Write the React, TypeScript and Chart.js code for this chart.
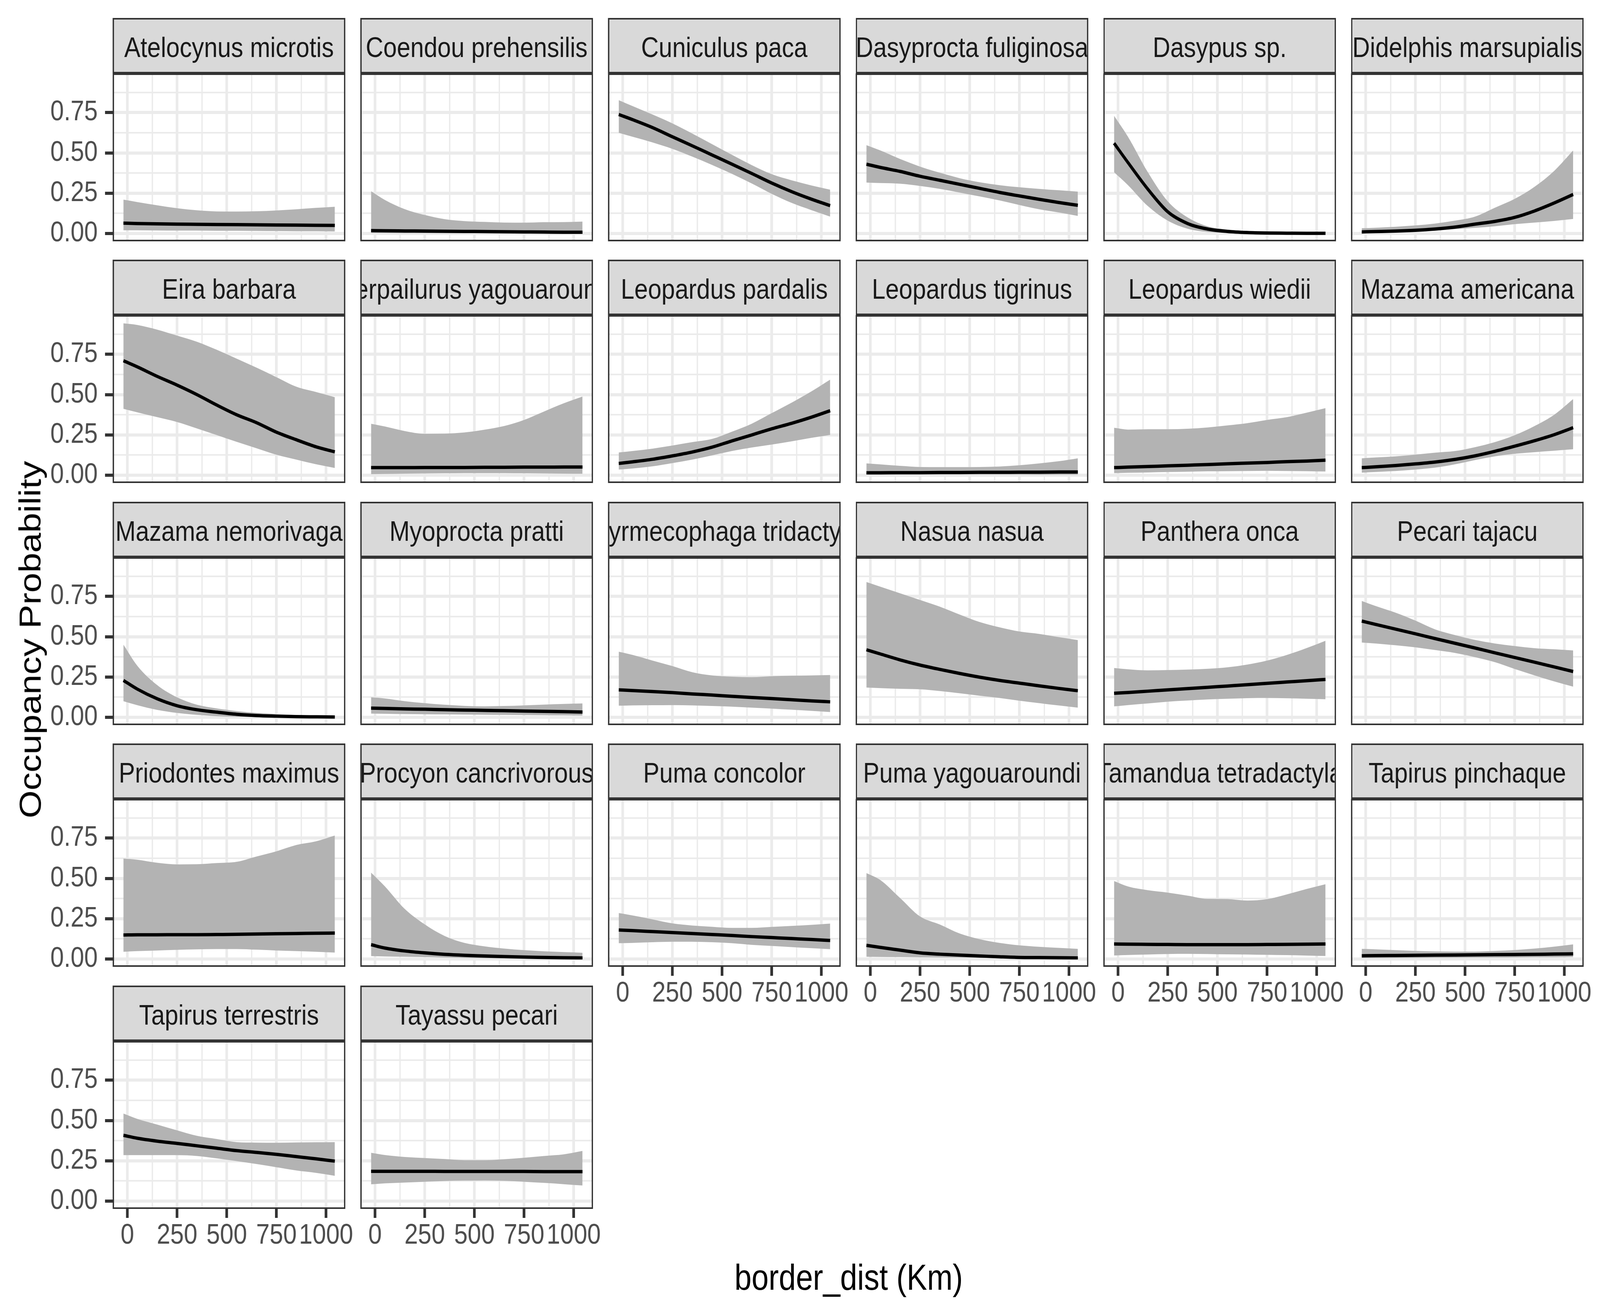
import React, { useEffect, useRef, useState } from 'react';
import { Chart, registerables } from 'chart.js';

Chart.register(...registerables);

// ---------------- data ----------------
const X_KM = [-20, 50, 150, 250, 350, 450, 550, 650, 750, 850, 950, 1044];
const X_MAJOR = [0, 250, 500, 750, 1000];
const X_MINOR = [125, 375, 625, 875];
const Y_MAJOR = [0, 0.25, 0.5, 0.75];
const Y_MINOR = [0.125, 0.375, 0.625, 0.875];
const X_LIMITS = [-74, 1097];
const Y_LIMITS = [-0.0484, 0.993];
const X_TITLE = 'border_dist (Km)';
const Y_TITLE = 'Occupancy Probability';

const atelocynusMean = [0.064, 0.062, 0.06, 0.058, 0.057, 0.056, 0.055, 0.054, 0.053, 0.052, 0.051, 0.05];
const atelocynusLow = [0.02, 0.02, 0.019, 0.018, 0.018, 0.017, 0.017, 0.016, 0.015, 0.014, 0.014, 0.013];
const atelocynusHigh = [0.21, 0.195, 0.175, 0.157, 0.144, 0.137, 0.136, 0.138, 0.143, 0.15, 0.159, 0.166];

const coendouMean = [0.018, 0.017, 0.016, 0.015, 0.014, 0.013, 0.012, 0.011, 0.01, 0.009, 0.008, 0.008];
const coendouLow = [0.003, 0.003, 0.002, 0.002, 0.002, 0.002, 0.002, 0.001, 0.001, 0.001, 0.001, 0.001];
const coendouHigh = [0.262, 0.208, 0.151, 0.115, 0.089, 0.077, 0.072, 0.068, 0.067, 0.07, 0.071, 0.074];

const cuniculusMean = [0.738, 0.706, 0.657, 0.6, 0.544, 0.487, 0.43, 0.372, 0.313, 0.26, 0.213, 0.173];
const cuniculusLow = [0.625, 0.6, 0.565, 0.525, 0.477, 0.425, 0.37, 0.31, 0.246, 0.19, 0.145, 0.105];
const cuniculusHigh = [0.827, 0.79, 0.738, 0.683, 0.62, 0.554, 0.488, 0.424, 0.368, 0.33, 0.298, 0.272];

const dasyproctaMean = [0.43, 0.41, 0.385, 0.355, 0.33, 0.305, 0.28, 0.255, 0.233, 0.212, 0.192, 0.175];
const dasyproctaLow = [0.316, 0.313, 0.309, 0.295, 0.277, 0.254, 0.23, 0.205, 0.177, 0.15, 0.13, 0.109];
const dasyproctaHigh = [0.548, 0.515, 0.462, 0.415, 0.377, 0.343, 0.318, 0.3, 0.287, 0.277, 0.268, 0.26];

const dasypusMean = [0.56, 0.44, 0.275, 0.135, 0.062, 0.028, 0.013, 0.006, 0.003, 0.002, 0.001, 0.001];
const dasypusLow = [0.38, 0.3, 0.17, 0.08, 0.03, 0.01, 0.004, 0.002, 0.001, 0.001, 0.0005, 0.0003];
const dasypusHigh = [0.73, 0.6, 0.38, 0.2, 0.1, 0.045, 0.025, 0.015, 0.01, 0.008, 0.007, 0.006];

const didelphisMean = [0.01, 0.012, 0.015, 0.02, 0.028, 0.04, 0.058, 0.075, 0.1, 0.14, 0.19, 0.242];
const didelphisLow = [0.006, 0.008, 0.011, 0.015, 0.02, 0.027, 0.035, 0.045, 0.058, 0.068, 0.078, 0.09];
const didelphisHigh = [0.033, 0.036, 0.042, 0.05, 0.062, 0.08, 0.105, 0.16, 0.215, 0.29, 0.39, 0.515];

const eiraMean = [0.71, 0.672, 0.613, 0.559, 0.5, 0.435, 0.375, 0.326, 0.267, 0.22, 0.176, 0.145];
const eiraLow = [0.412, 0.39, 0.36, 0.33, 0.29, 0.249, 0.207, 0.167, 0.127, 0.097, 0.068, 0.045];
const eiraHigh = [0.942, 0.932, 0.903, 0.866, 0.828, 0.778, 0.723, 0.667, 0.608, 0.549, 0.516, 0.484];

const herpailurusMean = [0.047, 0.047, 0.047, 0.048, 0.048, 0.048, 0.049, 0.049, 0.05, 0.05, 0.051, 0.051];
const herpailurusLow = [0.007, 0.008, 0.01, 0.011, 0.012, 0.013, 0.013, 0.013, 0.012, 0.011, 0.01, 0.009];
const herpailurusHigh = [0.319, 0.302, 0.274, 0.257, 0.258, 0.265, 0.282, 0.305, 0.343, 0.395, 0.446, 0.488];

const pardalisMean = [0.073, 0.083, 0.099, 0.12, 0.144, 0.174, 0.213, 0.25, 0.288, 0.322, 0.36, 0.4];
const pardalisLow = [0.035, 0.042, 0.055, 0.075, 0.097, 0.123, 0.15, 0.172, 0.19, 0.21, 0.232, 0.25];
const pardalisHigh = [0.141, 0.15, 0.165, 0.184, 0.205, 0.225, 0.27, 0.32, 0.385, 0.45, 0.52, 0.593];

const tigrinusMean = [0.015, 0.015, 0.016, 0.016, 0.017, 0.017, 0.018, 0.018, 0.019, 0.019, 0.02, 0.02];
const tigrinusLow = [0.003, 0.003, 0.004, 0.004, 0.004, 0.004, 0.004, 0.004, 0.004, 0.003, 0.003, 0.003];
const tigrinusHigh = [0.073, 0.067, 0.058, 0.051, 0.05, 0.05, 0.051, 0.054, 0.062, 0.073, 0.087, 0.105];

const wiediiMean = [0.047, 0.05, 0.054, 0.058, 0.062, 0.066, 0.071, 0.075, 0.079, 0.084, 0.088, 0.093];
const wiediiLow = [0.013, 0.015, 0.017, 0.02, 0.022, 0.024, 0.025, 0.026, 0.027, 0.026, 0.025, 0.023];
const wiediiHigh = [0.294, 0.283, 0.285, 0.285, 0.288, 0.296, 0.309, 0.323, 0.343, 0.36, 0.388, 0.416];

const americanaMean = [0.047, 0.052, 0.06, 0.07, 0.082, 0.098, 0.12, 0.148, 0.18, 0.214, 0.252, 0.295];
const americanaLow = [0.016, 0.02, 0.026, 0.035, 0.047, 0.068, 0.094, 0.117, 0.133, 0.143, 0.152, 0.161];
const americanaHigh = [0.105, 0.11, 0.117, 0.128, 0.14, 0.15, 0.174, 0.205, 0.248, 0.305, 0.376, 0.472];

const nemorivagaMean = [0.229, 0.175, 0.115, 0.072, 0.047, 0.032, 0.019, 0.011, 0.007, 0.004, 0.003, 0.002];
const nemorivagaLow = [0.1, 0.075, 0.046, 0.027, 0.015, 0.007, 0.003, 0.002, 0.001, 0.001, 0.001, 0.0005];
const nemorivagaHigh = [0.451, 0.32, 0.2, 0.124, 0.078, 0.055, 0.039, 0.027, 0.02, 0.014, 0.01, 0.006];

const myoproctaMean = [0.057, 0.055, 0.052, 0.05, 0.047, 0.045, 0.043, 0.041, 0.039, 0.037, 0.035, 0.033];
const myoproctaLow = [0.023, 0.022, 0.02, 0.019, 0.018, 0.017, 0.016, 0.015, 0.014, 0.013, 0.012, 0.011];
const myoproctaHigh = [0.124, 0.117, 0.1, 0.088, 0.078, 0.071, 0.068, 0.07, 0.074, 0.079, 0.083, 0.086];

const myrmecophagaMean = [0.17, 0.166, 0.16, 0.153, 0.145, 0.138, 0.13, 0.123, 0.116, 0.109, 0.102, 0.096];
const myrmecophagaLow = [0.072, 0.074, 0.075, 0.076, 0.074, 0.07, 0.066, 0.06, 0.054, 0.047, 0.04, 0.033];
const myrmecophagaHigh = [0.407, 0.387, 0.352, 0.318, 0.28, 0.26, 0.252, 0.249, 0.255, 0.258, 0.26, 0.262];

const nasuaMean = [0.419, 0.393, 0.356, 0.324, 0.297, 0.272, 0.249, 0.229, 0.212, 0.195, 0.179, 0.165];
const nasuaLow = [0.185, 0.181, 0.177, 0.174, 0.163, 0.149, 0.134, 0.12, 0.103, 0.088, 0.073, 0.06];
const nasuaHigh = [0.839, 0.81, 0.769, 0.728, 0.686, 0.637, 0.591, 0.558, 0.532, 0.517, 0.497, 0.479];

const pantheraMean = [0.149, 0.154, 0.162, 0.17, 0.178, 0.186, 0.194, 0.202, 0.211, 0.219, 0.227, 0.235];
const pantheraLow = [0.068, 0.076, 0.086, 0.097, 0.104, 0.111, 0.115, 0.119, 0.12, 0.118, 0.115, 0.112];
const pantheraHigh = [0.306, 0.298, 0.291, 0.293, 0.296, 0.301, 0.31, 0.327, 0.352, 0.387, 0.43, 0.475];

const pecariMean = [0.597, 0.576, 0.547, 0.518, 0.488, 0.459, 0.43, 0.4, 0.371, 0.342, 0.312, 0.284];
const pecariLow = [0.464, 0.458, 0.447, 0.434, 0.417, 0.399, 0.373, 0.342, 0.3, 0.26, 0.222, 0.19];
const pecariHigh = [0.722, 0.69, 0.649, 0.6, 0.545, 0.51, 0.48, 0.458, 0.442, 0.429, 0.422, 0.415];

const priodontesMean = [0.149, 0.15, 0.15, 0.151, 0.151, 0.152, 0.153, 0.155, 0.157, 0.158, 0.16, 0.161];
const priodontesLow = [0.045, 0.049, 0.053, 0.057, 0.06, 0.062, 0.062, 0.058, 0.053, 0.049, 0.045, 0.04];
const priodontesHigh = [0.623, 0.616, 0.597, 0.587, 0.588, 0.595, 0.603, 0.636, 0.668, 0.707, 0.73, 0.766];

const procyonMean = [0.089, 0.068, 0.05, 0.038, 0.029, 0.023, 0.019, 0.015, 0.012, 0.01, 0.008, 0.007];
const procyonLow = [0.018, 0.016, 0.014, 0.012, 0.009, 0.007, 0.005, 0.004, 0.003, 0.002, 0.002, 0.001];
const procyonHigh = [0.536, 0.45, 0.31, 0.215, 0.143, 0.1, 0.079, 0.065, 0.055, 0.048, 0.043, 0.039];

const concolorMean = [0.18, 0.176, 0.17, 0.164, 0.158, 0.152, 0.146, 0.139, 0.133, 0.127, 0.121, 0.115];
const concolorLow = [0.098, 0.1, 0.104, 0.107, 0.107, 0.104, 0.098, 0.088, 0.081, 0.074, 0.067, 0.061];
const concolorHigh = [0.285, 0.27, 0.246, 0.221, 0.208, 0.2, 0.193, 0.193, 0.199, 0.205, 0.212, 0.22];

const yagouaroundiMean = [0.085, 0.072, 0.055, 0.038, 0.03, 0.024, 0.019, 0.014, 0.01, 0.009, 0.008, 0.007];
const yagouaroundiLow = [0.014, 0.013, 0.012, 0.011, 0.01, 0.009, 0.008, 0.006, 0.005, 0.004, 0.003, 0.002];
const yagouaroundiHigh = [0.533, 0.49, 0.378, 0.264, 0.214, 0.158, 0.123, 0.1, 0.085, 0.076, 0.069, 0.063];

const tamanduaMean = [0.093, 0.092, 0.091, 0.09, 0.089, 0.089, 0.089, 0.089, 0.09, 0.091, 0.092, 0.093];
const tamanduaLow = [0.022, 0.025, 0.028, 0.031, 0.032, 0.031, 0.029, 0.028, 0.026, 0.024, 0.021, 0.019];
const tamanduaHigh = [0.484, 0.45, 0.427, 0.412, 0.393, 0.373, 0.372, 0.363, 0.371, 0.401, 0.435, 0.464];

const pinchaqueMean = [0.02, 0.021, 0.022, 0.023, 0.024, 0.025, 0.026, 0.027, 0.028, 0.029, 0.031, 0.032];
const pinchaqueLow = [0.006, 0.006, 0.007, 0.007, 0.008, 0.008, 0.009, 0.009, 0.01, 0.011, 0.011, 0.012];
const pinchaqueHigh = [0.063, 0.06, 0.055, 0.05, 0.047, 0.046, 0.046, 0.05, 0.056, 0.065, 0.077, 0.091];

const terrestrisMean = [0.408, 0.39, 0.372, 0.358, 0.343, 0.328, 0.313, 0.302, 0.29, 0.276, 0.262, 0.248];
const terrestrisLow = [0.285, 0.285, 0.285, 0.285, 0.28, 0.265, 0.248, 0.23, 0.21, 0.19, 0.175, 0.157];
const terrestrisHigh = [0.543, 0.51, 0.475, 0.439, 0.405, 0.385, 0.366, 0.363, 0.362, 0.364, 0.365, 0.366];

const tayassuMean = [0.185, 0.185, 0.185, 0.185, 0.184, 0.184, 0.184, 0.184, 0.184, 0.183, 0.183, 0.183];
const tayassuLow = [0.104, 0.11, 0.115, 0.12, 0.125, 0.127, 0.128, 0.126, 0.12, 0.113, 0.105, 0.097];
const tayassuHigh = [0.3, 0.286, 0.274, 0.267, 0.261, 0.254, 0.254, 0.26, 0.269, 0.28, 0.29, 0.311];

const PANELS = [
  { name: 'Atelocynus microtis', mean: atelocynusMean, low: atelocynusLow, high: atelocynusHigh },
  { name: 'Coendou prehensilis', mean: coendouMean, low: coendouLow, high: coendouHigh },
  { name: 'Cuniculus paca', mean: cuniculusMean, low: cuniculusLow, high: cuniculusHigh },
  { name: 'Dasyprocta fuliginosa', mean: dasyproctaMean, low: dasyproctaLow, high: dasyproctaHigh },
  { name: 'Dasypus sp.', mean: dasypusMean, low: dasypusLow, high: dasypusHigh },
  { name: 'Didelphis marsupialis', mean: didelphisMean, low: didelphisLow, high: didelphisHigh },
  { name: 'Eira barbara', mean: eiraMean, low: eiraLow, high: eiraHigh },
  { name: 'Herpailurus yagouaroundi', mean: herpailurusMean, low: herpailurusLow, high: herpailurusHigh },
  { name: 'Leopardus pardalis', mean: pardalisMean, low: pardalisLow, high: pardalisHigh },
  { name: 'Leopardus tigrinus', mean: tigrinusMean, low: tigrinusLow, high: tigrinusHigh },
  { name: 'Leopardus wiedii', mean: wiediiMean, low: wiediiLow, high: wiediiHigh },
  { name: 'Mazama americana', mean: americanaMean, low: americanaLow, high: americanaHigh },
  { name: 'Mazama nemorivaga', mean: nemorivagaMean, low: nemorivagaLow, high: nemorivagaHigh },
  { name: 'Myoprocta pratti', mean: myoproctaMean, low: myoproctaLow, high: myoproctaHigh },
  { name: 'Myrmecophaga tridactyla', mean: myrmecophagaMean, low: myrmecophagaLow, high: myrmecophagaHigh },
  { name: 'Nasua nasua', mean: nasuaMean, low: nasuaLow, high: nasuaHigh },
  { name: 'Panthera onca', mean: pantheraMean, low: pantheraLow, high: pantheraHigh },
  { name: 'Pecari tajacu', mean: pecariMean, low: pecariLow, high: pecariHigh },
  { name: 'Priodontes maximus', mean: priodontesMean, low: priodontesLow, high: priodontesHigh },
  { name: 'Procyon cancrivorous', mean: procyonMean, low: procyonLow, high: procyonHigh },
  { name: 'Puma concolor', mean: concolorMean, low: concolorLow, high: concolorHigh },
  { name: 'Puma yagouaroundi', mean: yagouaroundiMean, low: yagouaroundiLow, high: yagouaroundiHigh },
  { name: 'Tamandua tetradactyla', mean: tamanduaMean, low: tamanduaLow, high: tamanduaHigh },
  { name: 'Tapirus pinchaque', mean: pinchaqueMean, low: pinchaqueLow, high: pinchaqueHigh },
  { name: 'Tapirus terrestris', mean: terrestrisMean, low: terrestrisLow, high: terrestrisHigh },
  { name: 'Tayassu pecari', mean: tayassuMean, low: tayassuLow, high: tayassuHigh },
];

// ---------------- layout / style ----------------
const DESIGN_W = 4800;
const DESIGN_H = 3360;
const FONT = "'Liberation Sans', Arial, sans-serif";
const NCOL = 6;
const PANEL_LEFT0 = 338;
const COL_PITCH = 743;
const PANEL_W = 698;
const STRIP_TOP0 = 46;
const ROW_PITCH = 619.4;
const STRIP_H = 142;
const PANEL_H = 430;
const PAD_T = 80;
const PAD_B = 80;
const PAD_R = 110;
const Y_AXIS_W = 330;
const X_AXIS_H = 130;

const panelBorder = {
  id: 'panelBorder',
  afterDatasetsDraw(chart: any) {
    const { ctx, chartArea: a } = chart;
    ctx.save();
    ctx.strokeStyle = '#333333';
    ctx.lineWidth = 4;
    ctx.strokeRect(a.left + 2, a.top + 2, a.right - a.left - 4, a.bottom - a.top - 4);
    ctx.restore();
  },
};

function buildConfig(p: any, showY: boolean, showX: boolean): any {
  const pts = (arr: number[]) => arr.map((y, i) => ({ x: X_KM[i], y }));
  const xGrid = [...X_MAJOR, ...X_MINOR].sort((a, b) => a - b);
  const yGrid = [...Y_MAJOR, ...Y_MINOR].sort((a, b) => a - b);
  const tickFont = { family: FONT, size: 73 };
  return {
    type: 'line',
    data: {
      datasets: [
        {
          data: pts(p.mean),
          borderColor: '#000000',
          borderWidth: 8.5,
          pointRadius: 0,
          fill: false,
          cubicInterpolationMode: 'monotone',
        },
        {
          data: pts(p.high),
          borderColor: 'rgba(0,0,0,0)',
          borderWidth: 0,
          pointRadius: 0,
          backgroundColor: '#B3B3B3',
          fill: '+1',
          cubicInterpolationMode: 'monotone',
        },
        {
          data: pts(p.low),
          borderColor: 'rgba(0,0,0,0)',
          borderWidth: 0,
          pointRadius: 0,
          fill: false,
          cubicInterpolationMode: 'monotone',
        },
      ],
    },
    options: {
      animation: false,
      responsive: false,
      maintainAspectRatio: false,
      devicePixelRatio: 1,
      events: [],
      layout: { padding: { top: PAD_T, right: PAD_R, bottom: PAD_B, left: 0 } },
      plugins: { legend: { display: false }, tooltip: { enabled: false }, title: { display: false } },
      scales: {
        x: {
          type: 'linear',
          position: 'bottom',
          min: X_LIMITS[0],
          max: X_LIMITS[1],
          afterBuildTicks: (s: any) => {
            s.ticks = xGrid.map((v) => ({ value: v }));
          },
          afterFit: (s: any) => {
            s.height = showX ? X_AXIS_H : 0;
          },
          ticks: {
            display: showX,
            autoSkip: false,
            maxRotation: 0,
            minRotation: 0,
            padding: 2,
            color: '#4D4D4D',
            font: tickFont,
            callback: (v: number) => (X_MAJOR.includes(v) ? String(v) : ''),
          },
          grid: {
            color: '#EBEBEB',
            lineWidth: (c: any) => (c.tick && X_MAJOR.includes(c.tick.value) ? 8 : 4),
            drawTicks: showX,
            tickLength: 23,
            tickWidth: 8,
            tickColor: (c: any) => (c.tick && X_MAJOR.includes(c.tick.value) ? '#333333' : 'rgba(0,0,0,0)'),
          },
          border: { display: false },
        },
        y: {
          type: 'linear',
          position: 'left',
          min: Y_LIMITS[0],
          max: Y_LIMITS[1],
          afterBuildTicks: (s: any) => {
            s.ticks = yGrid.map((v) => ({ value: v }));
          },
          afterFit: (s: any) => {
            s.width = showY ? Y_AXIS_W : 0;
          },
          ticks: {
            display: showY,
            autoSkip: false,
            padding: 22,
            color: '#4D4D4D',
            font: tickFont,
            callback: (v: number) => (Y_MAJOR.includes(v) ? v.toFixed(2) : ''),
          },
          grid: {
            color: '#EBEBEB',
            lineWidth: (c: any) => (c.tick && Y_MAJOR.includes(c.tick.value) ? 8 : 4),
            drawTicks: showY,
            tickLength: 23,
            tickWidth: 8,
            tickColor: (c: any) => (c.tick && Y_MAJOR.includes(c.tick.value) ? '#333333' : 'rgba(0,0,0,0)'),
          },
          border: { display: false },
        },
      },
    },
    plugins: [panelBorder],
  };
}

function Panel({ index }: { index: number }) {
  const ref = useRef<HTMLCanvasElement>(null);
  const p = PANELS[index];
  const r = Math.floor(index / NCOL);
  const c = index % NCOL;
  const showY = c === 0;
  const showX = index + NCOL >= PANELS.length;
  const panelLeft = PANEL_LEFT0 + c * COL_PITCH;
  const stripTop = Math.round(STRIP_TOP0 + r * ROW_PITCH);
  const panelTop = stripTop + STRIP_H;
  const padL = showY ? Y_AXIS_W : 0;
  const w = padL + PANEL_W + PAD_R;
  const h = PAD_T + PANEL_H + (showX ? X_AXIS_H : 0) + PAD_B;

  useEffect(() => {
    if (!ref.current) return;
    const chart = new Chart(ref.current, buildConfig(p, showY, showX));
    return () => chart.destroy();
  }, []);

  return (
    <>
      <canvas
        ref={ref}
        width={w}
        height={h}
        style={{ position: 'absolute', left: panelLeft - padL, top: panelTop - PAD_T, width: w, height: h }}
      />
      <div
        style={{
          position: 'absolute',
          left: panelLeft,
          top: stripTop,
          width: PANEL_W,
          height: STRIP_H,
          boxSizing: 'border-box',
          border: '4px solid #333333',
          background: '#D9D9D9',
          display: 'flex',
          alignItems: 'center',
          justifyContent: 'center',
          overflow: 'hidden',
          whiteSpace: 'nowrap',
          fontFamily: FONT,
          fontSize: 73,
          lineHeight: 'normal',
          color: '#1A1A1A',
          paddingTop: 6,
        }}
      >
        <span>{p.name}</span>
      </div>
    </>
  );
}

// The browser viewport may be smaller than the design size: stretch the
// design to fill exactly the visible viewport.
function viewportScale() {
  const w = window.innerWidth || DESIGN_W;
  const h = window.innerHeight || DESIGN_H;
  return { sx: w / DESIGN_W, sy: h / DESIGN_H };
}

export default function App() {
  const [{ sx, sy }] = useState(viewportScale);
  return (
    <div
      style={{
        position: 'absolute',
        left: 0,
        top: 0,
        width: DESIGN_W * sx,
        height: DESIGN_H * sy,
        overflow: 'hidden',
        background: '#FFFFFF',
      }}
    >
      <div
        style={{
          position: 'absolute',
          left: 0,
          top: 0,
          width: DESIGN_W,
          height: DESIGN_H,
          transform: `scale(${sx}, ${sy})`,
          transformOrigin: '0 0',
          background: '#FFFFFF',
        }}
      >
        {PANELS.map((_, i) => (
          <Panel key={i} index={i} />
        ))}
        <div
          style={{
            position: 'absolute',
            left: 2546,
            top: 3271,
            transform: 'translate(-50%, -50%)',
            whiteSpace: 'nowrap',
            fontFamily: FONT,
            fontSize: 92,
            color: '#000000',
          }}
        >
          {X_TITLE}
        </div>
        <div
          style={{
            position: 'absolute',
            left: 90,
            top: 1638,
            transform: 'translate(-50%, -50%) rotate(-90deg)',
            whiteSpace: 'nowrap',
            fontFamily: FONT,
            fontSize: 92,
            color: '#000000',
          }}
        >
          {Y_TITLE}
        </div>
      </div>
    </div>
  );
}
